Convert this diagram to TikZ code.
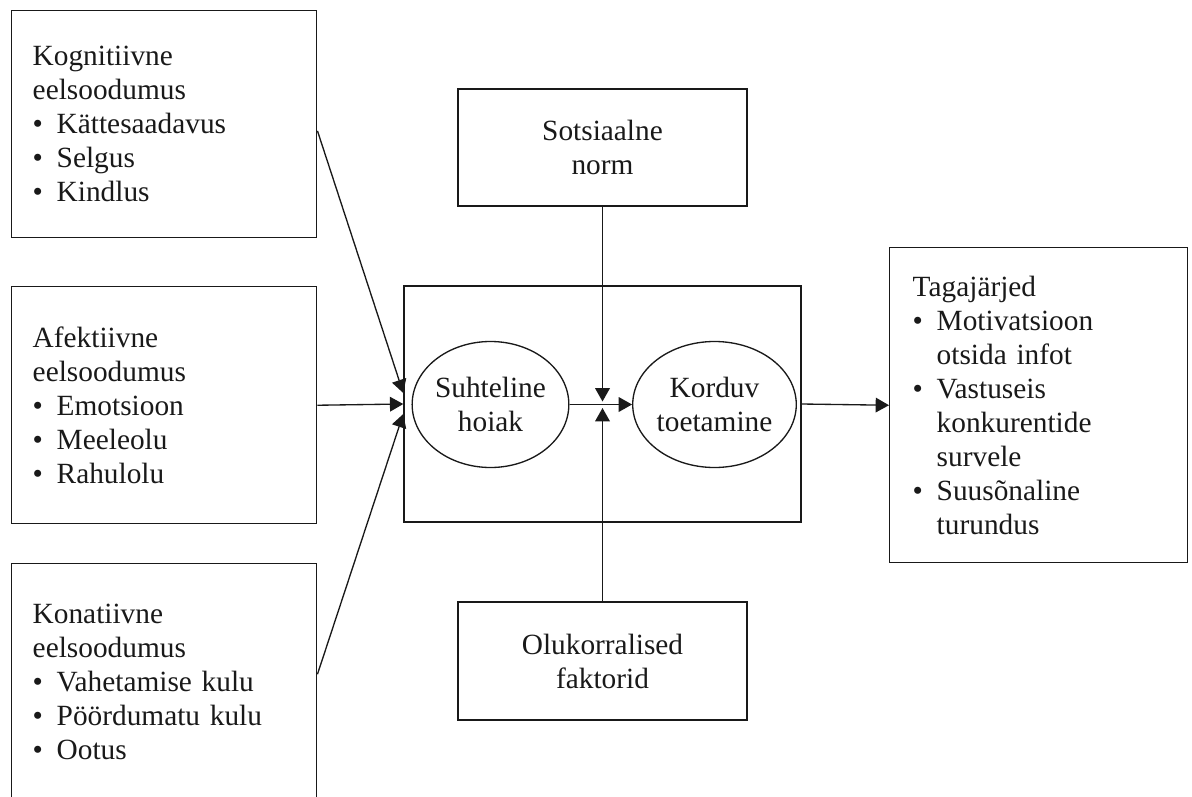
\documentclass[tikz,border=0pt]{standalone}
\usepackage{fontspec}
\setmainfont{Liberation Serif}
\usetikzlibrary{arrows.meta,shapes.geometric}
\newcommand{\bul}[1]{\makebox[18pt][l]{\textbullet}#1}
\newcommand{\cont}[1]{\hspace*{18pt}#1}
\begin{document}
\begin{tikzpicture}[x=0.75pt,y=-0.75pt,
  every node/.style={font=\fontsize{22}{25.5}\selectfont, text=black!90},
  box/.style={draw=black!90, line width=1.1pt, rectangle, inner sep=0pt},
  listbox/.style={box, align=left, anchor=north west},
  leftbox/.style={listbox, minimum width=228.75pt, text width=197.25pt, inner xsep=15.75pt},
  centerbox/.style={box, align=center, minimum width=216.75pt},
  oval/.style={draw=black!90, line width=1pt, ellipse, inner sep=0pt, align=center,
               minimum width=116.25pt, minimum height=94.5pt},
  arr/.style={draw=black!90, line width=1pt, -{Triangle[length=10pt,width=11pt]}}
]
\useasboundingbox (0,0) rectangle (1192,796);

% left boxes
\node[leftbox, minimum height=170.25pt] (kog) at (11,10)
  {Kognitiivne\\eelsoodumus\\\bul{Kättesaadavus}\\\bul{Selgus}\\\bul{Kindlus}};
\node[leftbox, minimum height=177.75pt] (afe) at (11,286)
  {Afektiivne\\eelsoodumus\\\bul{Emotsioon}\\\bul{Meeleolu}\\\bul{Rahulolu}};
\node[leftbox, minimum height=177.75pt] (kon) at (11,563)
  {Konatiivne\\eelsoodumus\\\bul{Vahetamise kulu}\\\bul{Pöördumatu kulu}\\\bul{Ootus}};

% middle box
\node[box, minimum width=297.75pt, minimum height=177pt] (mid) at (602.5,404) {};

% top and bottom boxes
\node[centerbox, minimum height=87.75pt] (soc) at (602.5,147.5) {Sotsiaalne\\norm};
\node[centerbox, minimum height=88.5pt] (olu) at (602.5,661) {Olukorralised\\faktorid};

% ellipses
\node[oval] (suh) at (490.5,404.5) {Suhteline\\hoiak};
\node[oval] (kor) at (714.5,404.5) {Korduv\\toetamine};

% right box
\node[listbox, minimum width=223.5pt, minimum height=236.25pt, text width=189pt, inner xsep=17.25pt] (tag) at (889,247)
  {Tagajärjed\\\bul{Motivatsioon}\\\cont{otsida infot}\\\bul{Vastuseis}\\\cont{konkurentide}\\\cont{survele}\\\bul{Suusõnaline}\\\cont{turundus}};

% coordinates for arrow ends
\coordinate (inTop) at ([yshift=8.25pt]mid.west);
\coordinate (inBot) at ([yshift=-7.5pt]mid.west);
\coordinate (modTop) at (602.5,401.5);
\coordinate (modBot) at (602.5,408);

% connectors
\draw[arr] ([yshift=-5pt]kog.east) -- (inTop);
\draw[arr] (afe.east) -- (mid.west);
\draw[arr] ([yshift=6pt]kon.east) -- (inBot);
\draw[arr] (suh.east) -- (kor.west);
\draw[arr] (soc.south) -- (modTop);
\draw[arr] (olu.north) -- (modBot);
\draw[arr] (mid.east) -- (tag.west);
\end{tikzpicture}
\end{document}
